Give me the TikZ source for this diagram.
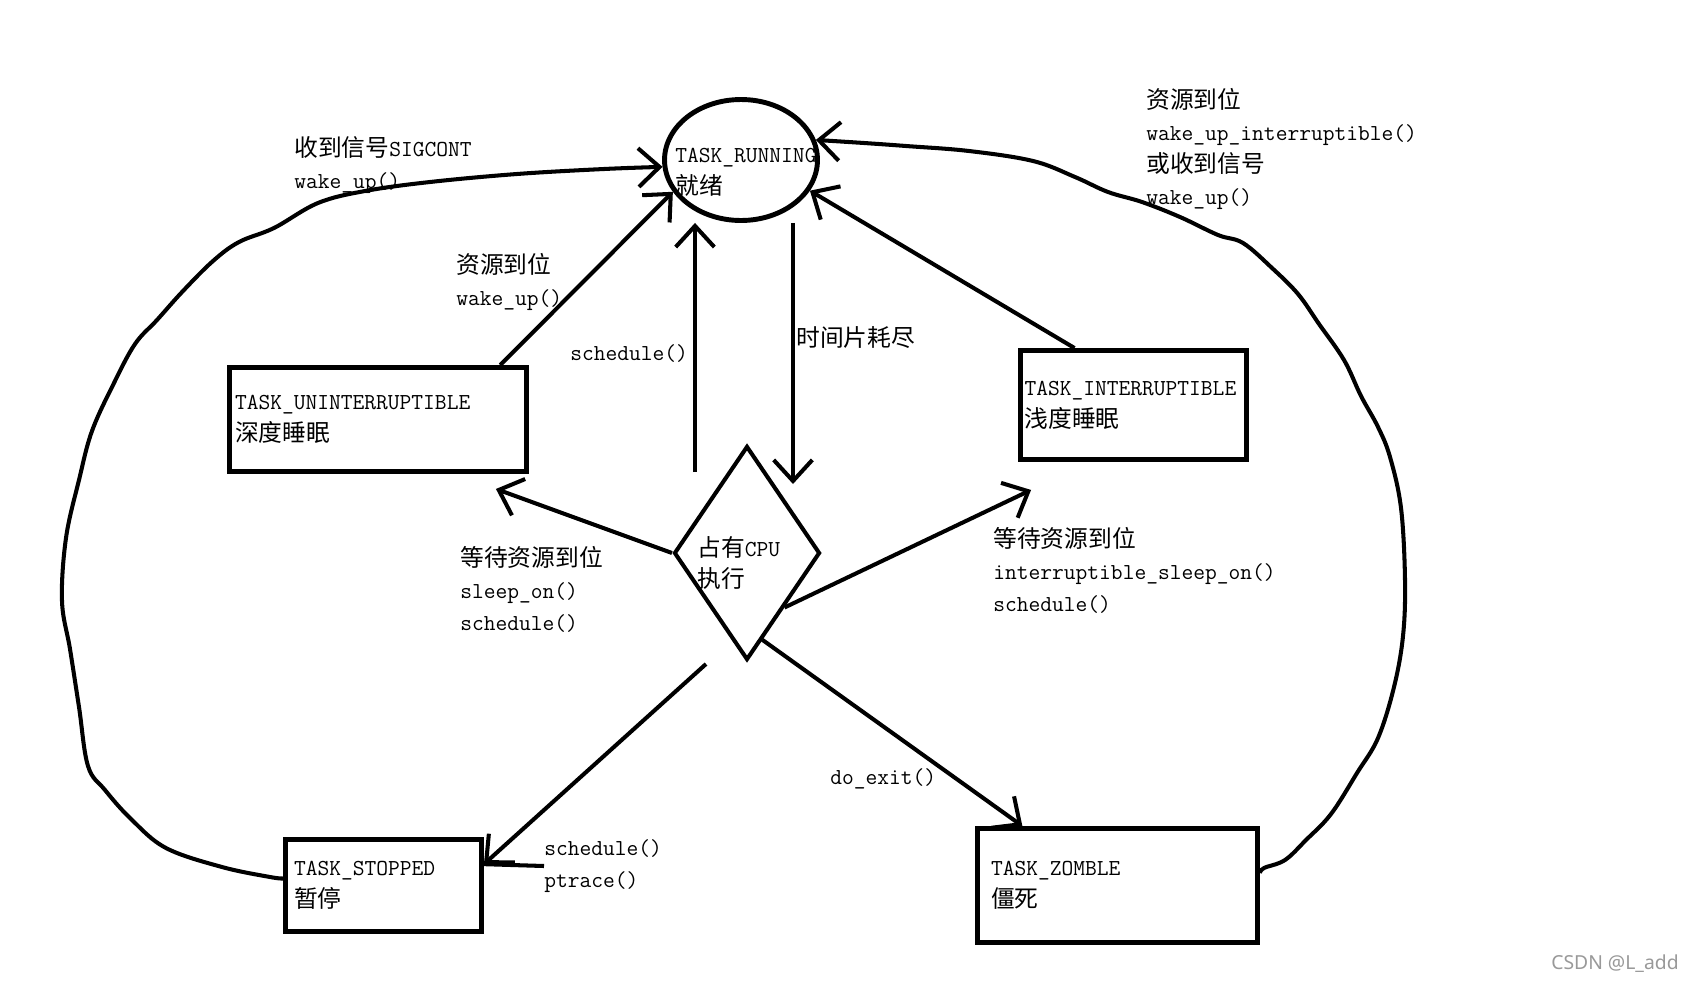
\documentclass[tikz,border=0pt]{standalone}
\usepackage{fontspec}
\newfontfamily\cjkfont{Noto Sans CJK SC}[Scale=1.04]
\newfontfamily\markfont{Noto Sans}
\newcommand{\zh}[1]{{\cjkfont #1}}
\usetikzlibrary{arrows.meta, shapes.geometric, calc}
\tikzset{
    state font/.style={font=\fontsize{13}{18.2}\selectfont\ttfamily},
    state node/.style={rectangle, draw=black, line width=2.8pt, align=left, inner ysep=0pt, state font},
    run node/.style={ellipse, draw=black, line width=2.8pt, inner sep=0pt, minimum width=3.06cm, minimum height=2.42cm},
    cpu node/.style={diamond, draw=black, line width=2.3pt, inner sep=0pt, minimum width=2.92cm, minimum height=4.28cm},
    note node/.style={inner sep=0pt, align=left, anchor=west, state font},
    arrow style/.style={-{Straight Barb[length=12pt,width=22pt]}, line width=2.3pt, black},
    plain style/.style={line width=2.3pt, black},
}

\begin{document}
\begin{tikzpicture}[x=0.02cm, y=-0.02cm]
    \fill[white] (0,0) rectangle (1693,984);
    \useasboundingbox (0,0) rectangle (1693,984);

    \node[run node] (run) at (741,160) {};
    \node[note node] (runTxt) at (675,172.5) {TASK\_RUNNING\\\zh{就绪}};
    \node[cpu node] (cpu) at (747,553) {};
    \node[note node] (cpuTxt) at (697,563) {\zh{占有}CPU\\\zh{执行}};

    \node[state node, minimum width=5.94cm, minimum height=2.08cm, inner xsep=0.11cm, text width=5.72cm] (unint) at (378,419.5) {TASK\_UNINTERRUPTIBLE\\\zh{深度睡眠}};
    \node[state node, minimum width=4.52cm, minimum height=2.18cm, inner xsep=0.08cm, text width=4.36cm] (inter) at (1133.5,405) {TASK\_INTERRUPTIBLE\\\zh{浅度睡眠}};
    \node[state node, minimum width=3.92cm, minimum height=1.84cm, inner xsep=0.17cm, text width=3.58cm] (stop) at (383.5,885.5) {TASK\_STOPPED\\\zh{暂停}};
    \node[state node, minimum width=5.60cm, minimum height=2.28cm, inner xsep=0.27cm, text width=5.06cm] (zomb) at (1117.5,885.5) {TASK\_ZOMBLE\\\zh{僵死}};

    \node[note node] (sigLbl) at (294,165.5) {\zh{收到信号}SIGCONT\\wake\_up()};
    \node[note node] (resLbl) at (456,281.5) {\zh{资源到位}\\wake\_up()};
    \node[note node] (schLbl) at (570,354) {schedule()};
    \node[note node] (tsLbl) at (796,338) {\zh{时间片耗尽}};
    \node[note node] (wakeLbl) at (1146,149) {\zh{资源到位}\\wake\_up\_interruptible()\\\zh{或收到信号}\\wake\_up()};
    \node[note node] (sleepLbl) at (460,589) {\zh{等待资源到位}\\sleep\_on()\\schedule()};
    \node[note node] (isleepLbl) at (993,570) {\zh{等待资源到位}\\interruptible\_sleep\_on()\\schedule()};
    \node[note node] (exitLbl) at (830,779) {do\_exit()};
    \node[note node] (ptraceLbl) at (544,866) {schedule()\\ptrace()};
    \node[anchor=east, inner sep=0pt, text=black!40, font=\markfont\fontsize{11}{13}\selectfont] (markLbl) at (1679,964) {CSDN @L\_add};

    \coordinate (schFoot) at (695,472);
    \coordinate (tsTip) at (793,484);
    \coordinate (uTip) at ($(unint.south east)+(-33,15)$);
    \coordinate (iTip) at ($(inter.south west)+(13,28)$);
    \coordinate (stFoot) at (706,664);

    \draw[arrow style] (schFoot) -- (run.south -| schFoot);
    \draw[arrow style] (run.south -| tsTip) -- (tsTip);
    \draw[arrow style] (unint.24) -- (run.205);
    \draw[arrow style] (inter.136) -- (run.-24);
    \draw[arrow style] (cpu.west) -- (uTip);
    \draw[arrow style] (cpu.south east) -- (iTip);
    \draw[arrow style] (stFoot) -- (stop.12);
    \draw[plain style] (stop.12) -- (ptraceLbl.west);
    \draw[arrow style] (cpu.-80) -- (zomb.148);

    \draw[arrow style] plot[smooth, tension=0.6] coordinates {(stop.176) (270,877) (222,867) (166,848) (131,819) (105,790) (88,766) (79,707) (70,649) (62,601) (66,538) (79,480) (92,431) (114,383) (135,344) (157,320) (183,291) (213,261) (239,242) (274,228) (318,203) (365,191) (430,182) (517,174) (604,169) (run.185)};
    \draw[arrow style] plot[smooth, tension=0.6] coordinates {(zomb.5) (1264,868) (1285,860) (1306,840) (1331,814) (1357,773) (1378,738) (1394,687) (1403,636) (1405,580) (1401,508) (1390,457) (1378,427) (1361,396) (1344,360) (1319,324) (1298,294) (1272,268) (1243,243) (1218,235) (1180,217) (1142,202) (1108,192) (1075,177) (1033,161) (969,151) (906,146) (864,143) (run.15)};
\end{tikzpicture}
\end{document}
